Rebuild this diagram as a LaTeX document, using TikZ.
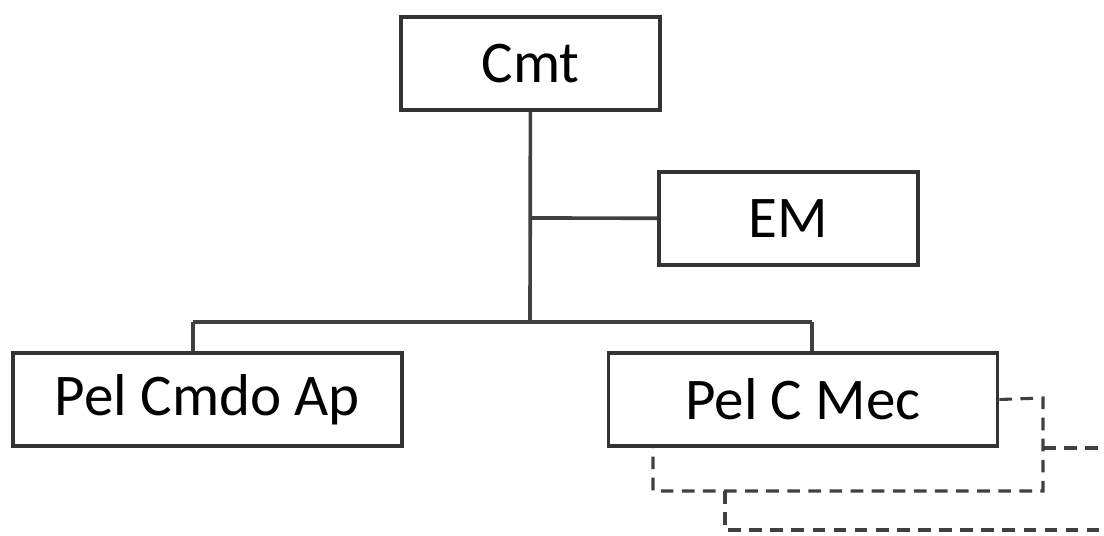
\documentclass[tikz,border=0pt]{standalone}
\usepackage{fontspec}
\setmainfont{Carlito}
\usepackage{tikz}

\begin{document}
\begin{tikzpicture}[x=0.025cm, y=-0.025cm, line width=2pt, draw=black!80,
  unit/.style={draw=black!80, line width=2.6pt, fill=white, minimum width=6.475cm, minimum height=2.325cm,
    inner sep=0pt, font=\fontsize{42}{48}\selectfont},
  pel/.style={unit, minimum width=9.725cm},
  link/.style={draw=black!75, line width=2.6pt},
  future/.style={draw=black!75, line width=2.2pt, dash pattern=on 9pt off 6pt}]
\useasboundingbox (0,0) rectangle (1104,536);

\node[unit] (cmt) at (530.5,63.5) {Cmt};
\node[unit] (em) at (788.5,218.5) {EM};
\node[pel] (ap) at (207.5,399.5) {Pel Cmdo Ap};
%\node[pel] (mec) [right of=ap] {Pel C Mec};
\node[pel] (mec) at (803,399.5) {Pel C Mec};

\coordinate (j1) at (530,218);
\coordinate (j2) at (530,322);
\coordinate (l) at (193,322);
\coordinate (r) at (812,322);

\draw[link] (cmt) -- (j2);
\draw[link] (j1) -- (em);
\draw[link] (l) -- (r);
\draw[link] (l) -- (l |- ap.north);
\draw[link] (r) -- (r |- mec.north);

% sections under Pel C Mec
\coordinate (d1) at (1043,398);
\coordinate (d2) at (1043,491);
\coordinate (d3) at (653,491);
\coordinate (d4) at (725,491);
\coordinate (d5) at (725,530);
\draw[future] (mec.east) -- (d1) -- (d2) -- (d3) -- (d3 |- mec.south);
\draw[future] (1043,448) -- (1104,448);
\draw[future] (d4) -- (d5) -- (1104,530);
\end{tikzpicture}
\end{document}
